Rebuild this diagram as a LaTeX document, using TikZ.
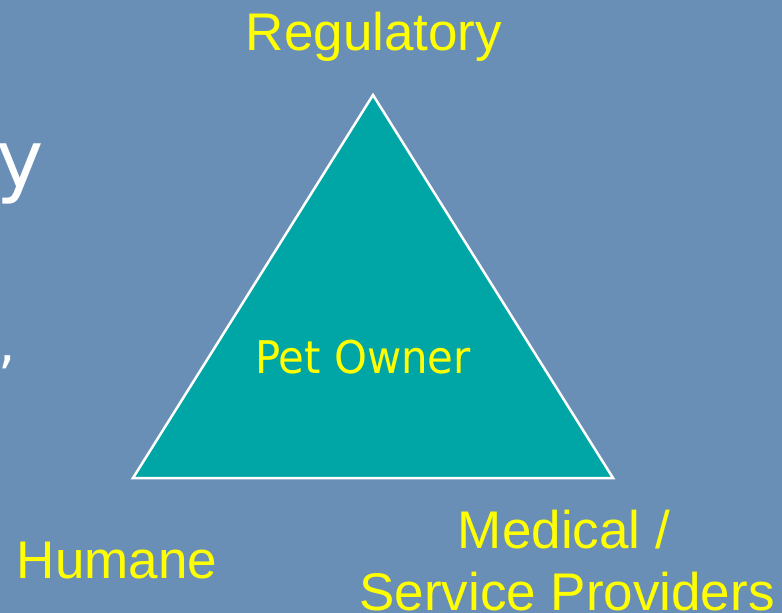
\documentclass[tikz,border=0pt]{standalone}
\usepackage{xcolor}
\usepackage{graphicx}
\usepackage{fontspec}
\setmainfont{Liberation Sans}
\newfontfamily\tahoma{DejaVu Sans}
\usepackage{tikz}

\definecolor{slideblue}{RGB}{106,143,182}
\definecolor{triteal}{RGB}{0,166,166}
\definecolor{labelyellow}{RGB}{255,255,0}

\tikzset{
  corner/.style={inner sep=0pt, text=labelyellow, font=\fontsize{53}{58}\selectfont, anchor=base},
  cutoff/.style={inner sep=0pt, text=white, anchor=base east},
}

\begin{document}
\begin{tikzpicture}[x=1pt,y=-1pt]
            \useasboundingbox (0,0) rectangle (782,613);
            \clip (0,0) rectangle (782,613);
            \fill [slideblue] (0,0) rectangle (782,613);
            % slide text cut off at the left edge
            \node [cutoff, font=\tahoma\fontsize{80}{90}\selectfont] (cuta) at (44,187) {y};
            \node [cutoff, font=\tahoma\fontsize{55}{60}\selectfont] (cutb) at (16,362) {y,};
            % the triangle
            \coordinate (top) at (373,95);
            \coordinate (left) at (133,478);
            \coordinate (right) at (613,478);
            \draw [white, fill=triteal, line width=2.5pt, line join=miter] (top) -- (left) -- (right) -- cycle;
            \node [inner sep=0pt, text=labelyellow, anchor=base, font=\tahoma\fontsize{45}{50}\selectfont] (owner) at (363,373) {\scalebox{0.93}[1]{Pet Owner}};
            % the three corners
            \node [corner] (reg) at (374,50) {Regulatory};
            \node [corner] (hum) at (117,578) {Humane};
            \node [corner] (med) at (564,548) {Medical /};
            \node [corner] (serv) at (567,610) {Service Providers};
        \end{tikzpicture}
\end{document}
